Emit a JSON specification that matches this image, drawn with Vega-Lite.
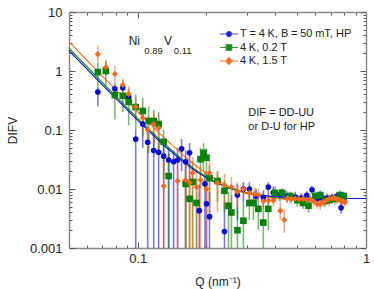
{
  "$schema": "https://vega.github.io/schema/vega-lite/v6.json",
  "width": 297,
  "height": 236,
  "autosize": {"type": "none"},
  "padding": {"left": 69, "top": 12, "right": 8, "bottom": 41},
  "background": "white",
  "config": {
    "view": {"stroke": null},
    "font": "Liberation Sans",
    "axis": {
      "grid": false,
      "domainColor": "#8a8a8a",
      "domainWidth": 1.5,
      "tickColor": "#555555",
      "tickWidth": 1,
      "labelFont": "Liberation Sans",
      "labelFontSize": 13,
      "labelColor": "#222222",
      "labelOverlap": false,
      "labelFlush": false,
      "labelBound": false,
      "titleFont": "Liberation Sans",
      "titleFontSize": 12,
      "titleFontWeight": "normal",
      "titleColor": "#222222"
    }
  },
  "datasets": {
    "pts": [
      {"s":"a","q":0.0669,"v":0.44,"lo":0.25,"hi":0.52},
      {"s":"a","q":0.0794,"v":0.50,"lo":0.44,"hi":0.57},
      {"s":"a","q":0.086,"v":0.52,"lo":0.45,"hi":0.60},
      {"s":"a","q":0.0913,"v":0.36,"lo":0.28,"hi":0.44},
      {"s":"a","q":0.098,"v":0.070,"lo":0.0003,"hi":0.10},
      {"s":"a","q":0.1052,"v":0.126,"lo":0.05,"hi":0.20},
      {"s":"a","q":0.1106,"v":0.062,"lo":0.0003,"hi":0.11},
      {"s":"a","q":0.1175,"v":0.045,"lo":0.0003,"hi":0.09},
      {"s":"a","q":0.1235,"v":0.042,"lo":0.0003,"hi":0.075},
      {"s":"a","q":0.1299,"v":0.036,"lo":0.0003,"hi":0.06},
      {"s":"a","q":0.1366,"v":0.031,"lo":0.0003,"hi":0.05},
      {"s":"a","q":0.1436,"v":0.029,"lo":0.0003,"hi":0.045},
      {"s":"a","q":0.1495,"v":0.031,"lo":0.0003,"hi":0.05},
      {"s":"a","q":0.1557,"v":0.048,"lo":0.02,"hi":0.07},
      {"s":"a","q":0.1621,"v":0.029,"lo":0.0003,"hi":0.045},
      {"s":"a","q":0.1687,"v":0.041,"lo":0.015,"hi":0.06},
      {"s":"a","q":0.186,"v":0.0043,"lo":0.0003,"hi":0.012},
      {"s":"a","q":0.197,"v":0.0122,"lo":0.0003,"hi":0.02},
      {"s":"a","q":0.2001,"v":0.0056,"lo":0.0003,"hi":0.012},
      {"s":"a","q":0.2063,"v":0.0034,"lo":0.0003,"hi":0.009},
      {"s":"a","q":0.2399,"v":0.0019,"lo":0.0003,"hi":0.006},
      {"s":"a","q":0.2734,"v":0.0079,"lo":0.003,"hi":0.012},
      {"s":"a","q":0.2904,"v":0.0100,"lo":0.006,"hi":0.013},
      {"s":"a","q":0.3084,"v":0.0100,"lo":0.007,"hi":0.013},
      {"s":"a","q":0.33,"v":0.0075,"lo":0.005,"hi":0.010},
      {"s":"a","q":0.355,"v":0.0072,"lo":0.005,"hi":0.0095},
      {"s":"a","q":0.3733,"v":0.0108,"lo":0.008,"hi":0.013},
      {"s":"a","q":0.3925,"v":0.0087,"lo":0.0065,"hi":0.011},
      {"s":"a","q":0.42,"v":0.0080,"lo":0.0062,"hi":0.010},
      {"s":"a","q":0.45,"v":0.0075,"lo":0.006,"hi":0.0092},
      {"s":"a","q":0.49,"v":0.0073,"lo":0.006,"hi":0.009},
      {"s":"a","q":0.52,"v":0.0070,"lo":0.0058,"hi":0.0085},
      {"s":"a","q":0.55,"v":0.0078,"lo":0.0065,"hi":0.0092},
      {"s":"a","q":0.58,"v":0.0097,"lo":0.0082,"hi":0.0112},
      {"s":"a","q":0.61,"v":0.0068,"lo":0.0056,"hi":0.0081},
      {"s":"a","q":0.64,"v":0.0072,"lo":0.006,"hi":0.0085},
      {"s":"a","q":0.675,"v":0.0070,"lo":0.0058,"hi":0.0083},
      {"s":"a","q":0.71,"v":0.0071,"lo":0.0059,"hi":0.0084},
      {"s":"a","q":0.745,"v":0.0075,"lo":0.0062,"hi":0.0088},
      {"s":"a","q":0.778,"v":0.0048,"lo":0.0038,"hi":0.006},
      {"s":"a","q":0.80,"v":0.0066,"lo":0.0055,"hi":0.0078},
      {"s":"b","q":0.0669,"v":0.96,"lo":0.5,"hi":1.4},
      {"s":"b","q":0.0725,"v":1.0,"lo":0.55,"hi":1.5},
      {"s":"b","q":0.0794,"v":0.39,"lo":0.15,"hi":0.6},
      {"s":"b","q":0.086,"v":0.38,"lo":0.2,"hi":0.7},
      {"s":"b","q":0.0913,"v":0.30,"lo":0.12,"hi":0.5},
      {"s":"b","q":0.098,"v":0.245,"lo":0.1,"hi":0.4},
      {"s":"b","q":0.1052,"v":0.21,"lo":0.08,"hi":0.35},
      {"s":"b","q":0.1117,"v":0.142,"lo":0.04,"hi":0.25},
      {"s":"b","q":0.1175,"v":0.142,"lo":0.05,"hi":0.22},
      {"s":"b","q":0.1235,"v":0.126,"lo":0.04,"hi":0.2},
      {"s":"b","q":0.1299,"v":0.063,"lo":0.015,"hi":0.1},
      {"s":"b","q":0.1366,"v":0.0166,"lo":0.0003,"hi":0.04},
      {"s":"b","q":0.1621,"v":0.0122,"lo":0.0003,"hi":0.03},
      {"s":"b","q":0.1687,"v":0.0068,"lo":0.0003,"hi":0.015},
      {"s":"b","q":0.1739,"v":0.0132,"lo":0.0003,"hi":0.03},
      {"s":"b","q":0.181,"v":0.0058,"lo":0.0003,"hi":0.015},
      {"s":"b","q":0.1884,"v":0.032,"lo":0.01,"hi":0.05},
      {"s":"b","q":0.1942,"v":0.041,"lo":0.02,"hi":0.06},
      {"s":"b","q":0.2001,"v":0.034,"lo":0.015,"hi":0.05},
      {"s":"b","q":0.2063,"v":0.0153,"lo":0.005,"hi":0.025},
      {"s":"b","q":0.2236,"v":0.0137,"lo":0.006,"hi":0.02},
      {"s":"b","q":0.2399,"v":0.0093,"lo":0.004,"hi":0.014},
      {"s":"b","q":0.250,"v":0.0052,"lo":0.001,"hi":0.009},
      {"s":"b","q":0.2573,"v":0.0040,"lo":0.0003,"hi":0.008},
      {"s":"b","q":0.2734,"v":0.0020,"lo":0.0003,"hi":0.005},
      {"s":"b","q":0.2904,"v":0.0029,"lo":0.0003,"hi":0.006},
      {"s":"b","q":0.3084,"v":0.0058,"lo":0.003,"hi":0.008},
      {"s":"b","q":0.3212,"v":0.0058,"lo":0.003,"hi":0.008},
      {"s":"b","q":0.3377,"v":0.0046,"lo":0.002,"hi":0.007},
      {"s":"b","q":0.355,"v":0.0027,"lo":0.0008,"hi":0.005},
      {"s":"b","q":0.3733,"v":0.0046,"lo":0.002,"hi":0.007},
      {"s":"b","q":0.40,"v":0.0086,"lo":0.0065,"hi":0.011},
      {"s":"b","q":0.43,"v":0.0086,"lo":0.007,"hi":0.0105},
      {"s":"b","q":0.466,"v":0.0076,"lo":0.006,"hi":0.009},
      {"s":"b","q":0.50,"v":0.0065,"lo":0.005,"hi":0.008},
      {"s":"b","q":0.53,"v":0.0058,"lo":0.0046,"hi":0.0072},
      {"s":"b","q":0.56,"v":0.0052,"lo":0.004,"hi":0.0066},
      {"s":"b","q":0.60,"v":0.0076,"lo":0.006,"hi":0.0092},
      {"s":"b","q":0.63,"v":0.0079,"lo":0.0065,"hi":0.0095},
      {"s":"b","q":0.66,"v":0.0063,"lo":0.005,"hi":0.0077},
      {"s":"b","q":0.69,"v":0.0065,"lo":0.0052,"hi":0.0079},
      {"s":"b","q":0.73,"v":0.0068,"lo":0.0055,"hi":0.0082},
      {"s":"b","q":0.77,"v":0.0079,"lo":0.0065,"hi":0.0094},
      {"s":"b","q":0.80,"v":0.0076,"lo":0.0063,"hi":0.009},
      {"s":"c","q":0.0669,"v":1.93,"lo":1.4,"hi":2.7},
      {"s":"c","q":0.0725,"v":1.17,"lo":0.85,"hi":1.5},
      {"s":"c","q":0.0794,"v":0.89,"lo":0.6,"hi":1.2},
      {"s":"c","q":0.086,"v":0.58,"lo":0.4,"hi":0.75},
      {"s":"c","q":0.0913,"v":0.41,"lo":0.28,"hi":0.55},
      {"s":"c","q":0.098,"v":0.245,"lo":0.15,"hi":0.35},
      {"s":"c","q":0.1052,"v":0.16,"lo":0.09,"hi":0.25},
      {"s":"c","q":0.1106,"v":0.10,"lo":0.04,"hi":0.17},
      {"s":"c","q":0.1175,"v":0.126,"lo":0.06,"hi":0.2},
      {"s":"c","q":0.1235,"v":0.108,"lo":0.04,"hi":0.18},
      {"s":"c","q":0.130,"v":0.0112,"lo":0.0003,"hi":0.03},
      {"s":"c","q":0.1495,"v":0.0137,"lo":0.0003,"hi":0.03},
      {"s":"c","q":0.1621,"v":0.0142,"lo":0.0003,"hi":0.03},
      {"s":"c","q":0.1687,"v":0.0127,"lo":0.0003,"hi":0.028},
      {"s":"c","q":0.1739,"v":0.0187,"lo":0.0003,"hi":0.035},
      {"s":"c","q":0.181,"v":0.0108,"lo":0.0003,"hi":0.025},
      {"s":"c","q":0.1884,"v":0.0142,"lo":0.0003,"hi":0.025},
      {"s":"c","q":0.2001,"v":0.0100,"lo":0.0003,"hi":0.02},
      {"s":"c","q":0.2063,"v":0.0187,"lo":0.004,"hi":0.03},
      {"s":"c","q":0.2236,"v":0.0127,"lo":0.004,"hi":0.02},
      {"s":"c","q":0.2399,"v":0.0117,"lo":0.005,"hi":0.018},
      {"s":"c","q":0.2573,"v":0.0108,"lo":0.005,"hi":0.016},
      {"s":"c","q":0.2734,"v":0.0089,"lo":0.005,"hi":0.013},
      {"s":"c","q":0.2904,"v":0.0100,"lo":0.007,"hi":0.013},
      {"s":"c","q":0.3084,"v":0.0086,"lo":0.006,"hi":0.011},
      {"s":"c","q":0.325,"v":0.0082,"lo":0.006,"hi":0.0105},
      {"s":"c","q":0.3377,"v":0.0080,"lo":0.006,"hi":0.0102},
      {"s":"c","q":0.355,"v":0.0062,"lo":0.0045,"hi":0.008},
      {"s":"c","q":0.3733,"v":0.0064,"lo":0.0048,"hi":0.008},
      {"s":"c","q":0.3925,"v":0.0064,"lo":0.005,"hi":0.008},
      {"s":"c","q":0.4212,"v":0.0043,"lo":0.003,"hi":0.006},
      {"s":"c","q":0.4385,"v":0.0030,"lo":0.0018,"hi":0.0045},
      {"s":"c","q":0.452,"v":0.0070,"lo":0.0057,"hi":0.0083},
      {"s":"c","q":0.47,"v":0.0068,"lo":0.0056,"hi":0.0081},
      {"s":"c","q":0.49,"v":0.0069,"lo":0.0057,"hi":0.0082},
      {"s":"c","q":0.51,"v":0.0067,"lo":0.0055,"hi":0.008},
      {"s":"c","q":0.53,"v":0.0068,"lo":0.0056,"hi":0.0081},
      {"s":"c","q":0.55,"v":0.0066,"lo":0.0054,"hi":0.0079},
      {"s":"c","q":0.57,"v":0.0067,"lo":0.0055,"hi":0.008},
      {"s":"c","q":0.59,"v":0.0062,"lo":0.0051,"hi":0.0074},
      {"s":"c","q":0.61,"v":0.0056,"lo":0.0046,"hi":0.0067},
      {"s":"c","q":0.63,"v":0.0055,"lo":0.0045,"hi":0.0066},
      {"s":"c","q":0.65,"v":0.0060,"lo":0.0049,"hi":0.0072},
      {"s":"c","q":0.67,"v":0.0064,"lo":0.0053,"hi":0.0076},
      {"s":"c","q":0.69,"v":0.0068,"lo":0.0056,"hi":0.0081},
      {"s":"c","q":0.71,"v":0.0069,"lo":0.0057,"hi":0.0082},
      {"s":"c","q":0.73,"v":0.0070,"lo":0.0058,"hi":0.0083},
      {"s":"c","q":0.75,"v":0.0067,"lo":0.0055,"hi":0.008},
      {"s":"c","q":0.77,"v":0.0065,"lo":0.0054,"hi":0.0077},
      {"s":"c","q":0.79,"v":0.0063,"lo":0.0052,"hi":0.0075},
      {"s":"c","q":0.81,"v":0.0060,"lo":0.005,"hi":0.0072}
    ],
    "fit": [
      {"s":"a","q":0.05,"v":2.215},{"s":"a","q":0.07,"v":0.582},{"s":"a","q":0.1,"v":0.145},
      {"s":"a","q":0.13,"v":0.0552},{"s":"a","q":0.16,"v":0.028},{"s":"a","q":0.18,"v":0.0200},
      {"s":"a","q":0.2,"v":0.0155},{"s":"a","q":0.22,"v":0.0128},{"s":"a","q":0.25,"v":0.0104},
      {"s":"a","q":0.3,"v":0.0086},{"s":"a","q":0.35,"v":0.0078},{"s":"a","q":0.4,"v":0.00744},
      {"s":"a","q":0.5,"v":0.00712},{"s":"a","q":0.7,"v":0.00696},{"s":"a","q":1.0,"v":0.0069},
      {"s":"b","q":0.05,"v":2.43},{"s":"b","q":0.07,"v":0.637},{"s":"b","q":0.1,"v":0.158},
      {"s":"b","q":0.13,"v":0.0595},{"s":"b","q":0.16,"v":0.0296},{"s":"b","q":0.18,"v":0.0209},
      {"s":"b","q":0.2,"v":0.0160},{"s":"b","q":0.22,"v":0.0130},{"s":"b","q":0.25,"v":0.0104},
      {"s":"b","q":0.3,"v":0.0084},{"s":"b","q":0.35,"v":0.0075},{"s":"b","q":0.4,"v":0.0071},
      {"s":"b","q":0.5,"v":0.0067},{"s":"b","q":0.7,"v":0.00656},{"s":"b","q":0.82,"v":0.0065},
      {"s":"c","q":0.05,"v":3.14},{"s":"c","q":0.07,"v":0.822},{"s":"c","q":0.1,"v":0.202},
      {"s":"c","q":0.13,"v":0.0747},{"s":"c","q":0.16,"v":0.036},{"s":"c","q":0.18,"v":0.0248},
      {"s":"c","q":0.2,"v":0.0184},{"s":"c","q":0.22,"v":0.0145},{"s":"c","q":0.25,"v":0.0111},
      {"s":"c","q":0.3,"v":0.0085},{"s":"c","q":0.35,"v":0.0074},{"s":"c","q":0.4,"v":0.0069},
      {"s":"c","q":0.5,"v":0.0064},{"s":"c","q":0.7,"v":0.0062},{"s":"c","q":0.82,"v":0.0061}
    ]
  },
  "layer": [
    {
      "data": {"name": "pts"},
      "mark": {"type": "rule", "strokeWidth": 1.6, "opacity": 0.55, "clip": true},
      "encoding": {
        "x": {
          "field": "q", "type": "quantitative",
          "scale": {"type": "log", "domain": [0.05, 1], "nice": false},
          "axis": {
            "orient": "bottom",
            "title": "Q (nm⁻¹)",
            "titlePadding": 8,
            "values": [0.05,0.06,0.07,0.08,0.09,0.1,0.2,0.3,0.4,0.5,0.6,0.7,0.8,0.9,1],
            "labelExpr": "abs(log(datum.value)/LN10 - round(log(datum.value)/LN10)) < 0.001 ? format(datum.value, '~g') : ''",
            "tickSize": {"condition": {"test": "abs(log(datum.value)/LN10 - round(log(datum.value)/LN10)) < 0.001", "value": -6}, "value": -3},
            "labelPadding": 10
          }
        },
        "y": {
          "field": "lo", "type": "quantitative",
          "scale": {"type": "log", "domain": [0.001, 10], "nice": false},
          "axis": {
            "orient": "left",
            "title": "DIFV",
            "titlePadding": 10,
            "values": [0.001,0.002,0.003,0.004,0.005,0.006,0.007,0.008,0.009,0.01,0.02,0.03,0.04,0.05,0.06,0.07,0.08,0.09,0.1,0.2,0.3,0.4,0.5,0.6,0.7,0.8,0.9,1,2,3,4,5,6,7,8,9,10],
            "labelExpr": "abs(log(datum.value)/LN10 - round(log(datum.value)/LN10)) < 0.001 ? format(datum.value, '~g') : ''",
            "tickSize": {"condition": {"test": "abs(log(datum.value)/LN10 - round(log(datum.value)/LN10)) < 0.001", "value": -6}, "value": -3},
            "labelPadding": 13
          }
        },
        "y2": {"field": "hi"},
        "color": {
          "field": "s", "type": "nominal",
          "scale": {"range": ["#0a0ad2","#0b800b","#f46a1c"]},
          "legend": null
        }
      }
    },
    {
      "data": {"name": "fit"},
      "mark": {"type": "line", "strokeWidth": 1.1, "clip": true},
      "encoding": {
        "x": {
          "field": "q", "type": "quantitative",
          "scale": {"type": "log", "domain": [0.05, 1], "nice": false},
          "axis": {
            "orient": "top", "title": null, "labels": false,
            "values": [0.05,0.06,0.07,0.08,0.09,0.1,0.2,0.3,0.4,0.5,0.6,0.7,0.8,0.9,1],
            "tickSize": {"condition": {"test": "abs(log(datum.value)/LN10 - round(log(datum.value)/LN10)) < 0.001", "value": -6}, "value": -3}
          }
        },
        "y": {
          "field": "v", "type": "quantitative",
          "scale": {"type": "log", "domain": [0.001, 10], "nice": false},
          "axis": {
            "orient": "right", "title": null, "labels": false,
            "values": [0.001,0.002,0.003,0.004,0.005,0.006,0.007,0.008,0.009,0.01,0.02,0.03,0.04,0.05,0.06,0.07,0.08,0.09,0.1,0.2,0.3,0.4,0.5,0.6,0.7,0.8,0.9,1,2,3,4,5,6,7,8,9,10],
            "tickSize": {"condition": {"test": "abs(log(datum.value)/LN10 - round(log(datum.value)/LN10)) < 0.001", "value": -6}, "value": -3}
          }
        },
        "color": {"field": "s", "type": "nominal", "legend": null}
      }
    },
    {
      "data": {"name": "pts"},
      "transform": [{"filter": "datum.s === 'a'"}],
      "mark": {"type": "point", "shape": "circle", "filled": true, "color": "#0a0ad2", "size": 32, "opacity": 1, "clip": true},
      "encoding": {
        "x": {"field": "q", "type": "quantitative", "scale": {"type": "log", "domain": [0.05, 1], "nice": false}, "axis": null},
        "y": {"field": "v", "type": "quantitative", "scale": {"type": "log", "domain": [0.001, 10], "nice": false}, "axis": null}
      }
    },
    {
      "data": {"name": "pts"},
      "transform": [{"filter": "datum.s === 'b'"}],
      "mark": {"type": "point", "shape": "square", "filled": true, "color": "#0b800b", "size": 44, "opacity": 1, "clip": true},
      "encoding": {
        "x": {"field": "q", "type": "quantitative", "scale": {"type": "log", "domain": [0.05, 1], "nice": false}, "axis": null},
        "y": {"field": "v", "type": "quantitative", "scale": {"type": "log", "domain": [0.001, 10], "nice": false}, "axis": null}
      }
    },
    {
      "data": {"name": "pts"},
      "transform": [{"filter": "datum.s === 'c'"}],
      "mark": {"type": "point", "shape": "diamond", "filled": true, "color": "#f46a1c", "size": 38, "opacity": 1, "clip": true},
      "encoding": {
        "x": {"field": "q", "type": "quantitative", "scale": {"type": "log", "domain": [0.05, 1], "nice": false}, "axis": null},
        "y": {"field": "v", "type": "quantitative", "scale": {"type": "log", "domain": [0.001, 10], "nice": false}, "axis": null}
      }
    },
    {
      "data": {"values": []},
      "mark": {"type": "point", "filled": true, "opacity": 1},
      "encoding": {
        "x": {"field": "q", "type": "quantitative", "scale": {"type": "log", "domain": [0.05, 1], "nice": false}, "axis": null},
        "y": {"field": "v", "type": "quantitative", "scale": {"type": "log", "domain": [0.001, 10], "nice": false}, "axis": null},
        "fill": {
          "field": "s", "type": "nominal",
          "scale": {"domain": ["a","b","c"], "range": ["#0a0ad2","#0b800b","#f46a1c"]},
          "legend": {
            "orient": "none",
            "legendX": 154.5,
            "legendY": 16.5,
            "title": null,
            "padding": 0,
            "rowPadding": 1.5,
            "symbolSize": 81,
            "symbolStrokeWidth": 1.2,
            "symbolOpacity": 1,
            "labelOffset": 5.5,
            "labelFont": "Liberation Sans",
            "labelFontSize": 11,
            "labelColor": "#222222",
            "labelExpr": "datum.value === 'a' ? 'T\u2005=\u20054\u2005K, B\u2005=\u200550\u2005mT, HP' : datum.value === 'b' ? '4\u2005K, 0.2\u2005T' : '4\u2005K, 1.5\u2005T'"
          }
        },
        "stroke": {
          "field": "s", "type": "nominal",
          "scale": {"domain": ["a","b","c"], "range": ["#4040dc","#2f922f","#f47a30"]}
        },
        "shape": {
          "field": "s", "type": "nominal",
          "scale": {"domain": ["a","b","c"], "range": [
            "M-2,0H2M-0.55,0A0.55,0.55 0 1,0 0.55,0A0.55,0.55 0 1,0 -0.55,0Z",
            "M-2,0H2M-0.6,-0.6H0.6V0.6H-0.6Z",
            "M-2,0H2M0,-0.75L0.75,0L0,0.75L-0.75,0Z"
          ]}
        }
      }
    },
    {
      "data": {"values": [{}]},
      "mark": {"type": "text", "text": "Ni", "align": "left", "baseline": "middle", "fontSize": 12, "font": "Liberation Sans", "color": "#222222"},
      "encoding": {
        "x": {"datum": 0.0913, "type": "quantitative", "scale": {"type": "log", "domain": [0.05, 1], "nice": false}, "axis": null},
        "y": {"datum": 3.225, "type": "quantitative", "scale": {"type": "log", "domain": [0.001, 10], "nice": false}, "axis": null}
      }
    },
    {
      "data": {"values": [{}]},
      "mark": {"type": "text", "text": "0.89", "align": "left", "baseline": "middle", "fontSize": 9.5, "font": "Liberation Sans", "color": "#222222"},
      "encoding": {
        "x": {"datum": 0.1068, "type": "quantitative", "scale": {"type": "log", "domain": [0.05, 1], "nice": false}, "axis": null},
        "y": {"datum": 2.183, "type": "quantitative", "scale": {"type": "log", "domain": [0.001, 10], "nice": false}, "axis": null}
      }
    },
    {
      "data": {"values": [{}]},
      "mark": {"type": "text", "text": "V", "align": "left", "baseline": "middle", "fontSize": 12, "font": "Liberation Sans", "color": "#222222"},
      "encoding": {
        "x": {"datum": 0.1303, "type": "quantitative", "scale": {"type": "log", "domain": [0.05, 1], "nice": false}, "axis": null},
        "y": {"datum": 3.225, "type": "quantitative", "scale": {"type": "log", "domain": [0.001, 10], "nice": false}, "axis": null}
      }
    },
    {
      "data": {"values": [{}]},
      "mark": {"type": "text", "text": "0.11", "align": "left", "baseline": "middle", "fontSize": 9.5, "font": "Liberation Sans", "color": "#222222"},
      "encoding": {
        "x": {"datum": 0.144, "type": "quantitative", "scale": {"type": "log", "domain": [0.05, 1], "nice": false}, "axis": null},
        "y": {"datum": 2.183, "type": "quantitative", "scale": {"type": "log", "domain": [0.001, 10], "nice": false}, "axis": null}
      }
    },
    {
      "data": {"values": [{}]},
      "mark": {"type": "text", "text": "DIF = DD-UU", "align": "left", "baseline": "middle", "fontSize": 11, "font": "Liberation Sans", "color": "#222222"},
      "encoding": {
        "x": {"datum": 0.3053, "type": "quantitative", "scale": {"type": "log", "domain": [0.05, 1], "nice": false}, "axis": null},
        "y": {"datum": 0.1905, "type": "quantitative", "scale": {"type": "log", "domain": [0.001, 10], "nice": false}, "axis": null}
      }
    },
    {
      "data": {"values": [{}]},
      "mark": {"type": "text", "text": "or D-U for HP", "align": "left", "baseline": "middle", "fontSize": 11, "font": "Liberation Sans", "color": "#222222"},
      "encoding": {
        "x": {"datum": 0.3053, "type": "quantitative", "scale": {"type": "log", "domain": [0.05, 1], "nice": false}, "axis": null},
        "y": {"datum": 0.1138, "type": "quantitative", "scale": {"type": "log", "domain": [0.001, 10], "nice": false}, "axis": null}
      }
    }
  ],
  "resolve": {"axis": {"x": "independent", "y": "independent"}}
}
